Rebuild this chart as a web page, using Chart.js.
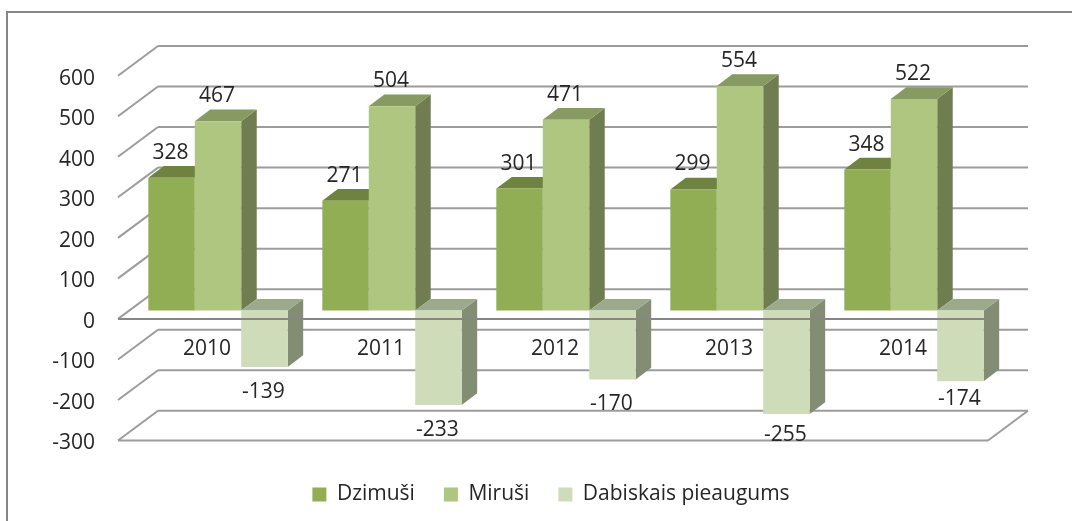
<!DOCTYPE html>
<html><head><meta charset="utf-8">
<style>html,body{margin:0;padding:0;background:#fff}#w{position:relative;width:1072px;height:521px}</style>
<script src="https://cdn.jsdelivr.net/npm/chart.js@4"></script></head>
<body><div id="w"><canvas id="c" width="1072" height="521"></canvas></div>
<script>
const categories = ['2010','2011','2012','2013','2014'];
const dzimusi = [328,271,301,299,348];
const mirusi = [467,504,471,554,522];
const pieaugums = [-139,-233,-170,-255,-174];
const seriesNames = ['Dzimuši','Miruši','Dabiskais pieaugums'];
const FONT = '"Open Sans"';
const FS = 21;
const TXT = '#262626';
const faces = [
 {front:'#92AE55',top:'#6F823F',side:'#6C7D3D'},
 {front:'#AFC681',top:'#869A61',side:'#6F7D51'},
 {front:'#CFDCB9',top:'#9CAA8B',side:'#838D74'}
];
const wall = {dx:40,dy:-29.7}, plane = {dx:13,dy:-8.3}, depth = {dx:15.5,dy:-11.7};

function poly(ctx,pts,fill){ctx.beginPath();pts.forEach((p,i)=>i?ctx.lineTo(p[0],p[1]):ctx.moveTo(p[0],p[1]));ctx.closePath();ctx.fillStyle=fill;ctx.fill();}
function seg(ctx,x1,y1,x2,y2){ctx.beginPath();ctx.moveTo(x1,y1);ctx.lineTo(x2,y2);ctx.stroke();}

const threeD = {
 id:'threeD',
 afterLayout(chart){
  const l=chart.legend; l.top+=14.5; l.bottom+=14.5; l.left-=2; l.right-=2;
 },
 beforeDraw(chart){
  const c=chart.ctx;c.save();c.strokeStyle='#868686';c.lineWidth=2;
  c.beginPath();c.moveTo(1072,12);c.lineTo(7,12);c.lineTo(7,521);c.stroke();c.restore();
 },
 beforeDatasetsDraw(chart){
  const c=chart.ctx,a=chart.chartArea,y=chart.scales.y;
  c.save();c.strokeStyle='#9C9C9C';c.lineWidth=2;
  y.ticks.forEach(t=>{const p=y.getPixelForValue(t.value);
    seg(c,a.left,p,a.left+wall.dx,p+wall.dy);
    seg(c,a.left+wall.dx,p+wall.dy,a.right+wall.dx,p+wall.dy);});
  const b=y.getPixelForValue(y.min);
  seg(c,a.left,b,a.right,b);
  seg(c,a.right,b,a.right+wall.dx,b+wall.dy);
  c.restore();
  chart.data.datasets.forEach((ds,i)=>{
   const meta=chart.getDatasetMeta(i),f=faces[i];
   c.save();c.translate(plane.dx,plane.dy);
   meta.data.forEach(el=>{
    const L=el.x-el.width/2,R=el.x+el.width/2,T=Math.min(el.y,el.base),B=Math.max(el.y,el.base);
    poly(c,[[R,T],[R+depth.dx,T+depth.dy],[R+depth.dx,B+depth.dy],[R,B]],f.side);
    poly(c,[[L,T],[L+depth.dx,T+depth.dy],[R+depth.dx,T+depth.dy],[R,T]],f.top);
   });
   meta.controller.draw();
   c.restore();
  });
  const z=y.getPixelForValue(0);
  c.save();c.strokeStyle='#868686';c.lineWidth=2;seg(c,a.left,z,a.right,z);c.restore();
  c.save();c.font=FS+'px '+FONT;c.fillStyle=TXT;c.textAlign='center';c.textBaseline='middle';
  chart.data.datasets.forEach((ds,i)=>{
   chart.getDatasetMeta(i).data.forEach((el,j)=>{
    const v=ds.data[j];
    let off=25;
    if(v===-255) off=21; if(v===-174) off=18;
    c.fillText(String(v),el.x+plane.dx-1,el.y+plane.dy+(v<0?off:-off));
   });
  });
  c.restore();
  return false;
 }
};

new Chart(document.getElementById('c'),{
 type:'bar',
 data:{labels:categories,datasets:[
  {label:seriesNames[0],data:dzimusi,backgroundColor:faces[0].front},
  {label:seriesNames[1],data:mirusi,backgroundColor:faces[1].front},
  {label:seriesNames[2],data:pieaugums,backgroundColor:faces[2].front}
 ]},
 options:{
  responsive:false,animation:false,
  categoryPercentage:0.801,barPercentage:1,
  layout:{padding:{left:0,top:75.7,right:84,bottom:20.5}},
  scales:{
   x:{position:{y:0},grid:{display:false},border:{display:false},
      ticks:{font:{family:FONT,size:FS},color:TXT,padding:10,labelOffset:2,maxRotation:0}},
   y:{min:-300,max:600,ticks:{stepSize:100,font:{family:FONT,size:FS},color:TXT,padding:15,labelOffset:3},
      grid:{display:false},border:{display:false},
      afterFit(s){s.width=118;}}
  },
  plugins:{
   tooltip:{enabled:false},
   legend:{position:'bottom',fullSize:false,labels:{font:{family:FONT,size:FS},color:TXT,boxWidth:14,boxHeight:14,padding:29}}
  }
 },
 plugins:[threeD]
});
</script></body></html>
